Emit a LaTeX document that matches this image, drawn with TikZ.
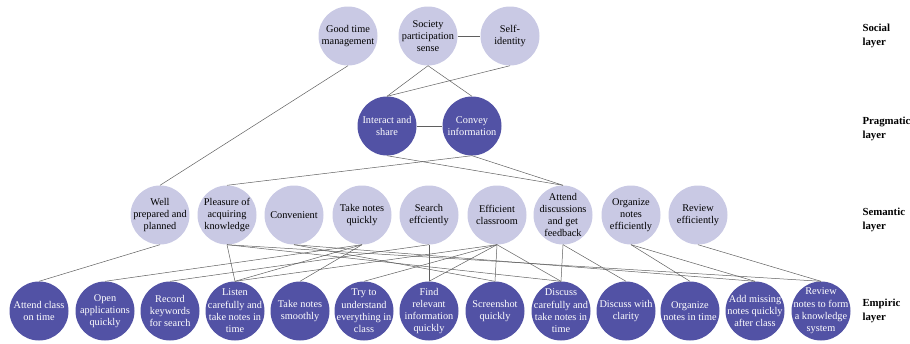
\documentclass[tikz,border=0pt]{standalone}
\usepackage{fontspec}
\setmainfont{Liberation Serif}
\definecolor{lightc}{RGB}{201,201,228}
\definecolor{darkc}{RGB}{82,82,165}
\definecolor{edgec}{RGB}{95,95,95}
\begin{document}
\begin{tikzpicture}[x=1pt,y=-1pt,
  light/.style={circle,fill=lightc,minimum size=59pt,inner sep=0pt,
    label={[txt,text=black]center:#1}},
  dark/.style={circle,fill=darkc,minimum size=59pt,inner sep=0pt,
    label={[txt,text=white]center:#1}},
  txt/.style={align=center,inner sep=0pt,font=\fontsize{10.3}{12.3}\selectfont},
  lay/.style={anchor=west,align=left,font=\fontsize{10.8}{14}\selectfont\bfseries},
  edge/.style={draw=edgec,line width=0.5pt}]
\useasboundingbox (0,0) rectangle (910,343);
% social
\node[light={Good time\\management}] (s1) at (348,36) {};
\node[light={Society\\participation\\sense}] (s2) at (428,36) {};
\node[light={Self-\\identity}] (s3) at (510,36) {};
% pragmatic
\node[dark={Interact and\\share}] (p1) at (387,126) {};
\node[dark={Convey\\information}] (p2) at (472,126) {};
% semantic
\node[light={Well\\prepared and\\planned}] (m1) at (160,215) {};
\node[light={Pleasure of\\acquiring\\knowledge}] (m2) at (227,215) {};
\node[light={Convenient}] (m3) at (294,215) {};
\node[light={Take notes\\quickly}] (m4) at (362,215) {};
\node[light={Search\\effciently}] (m5) at (429,215) {};
\node[light={Efficient\\classroom}] (m6) at (497,215) {};
\node[light={Attend\\discussions\\and get\\feedback}] (m7) at (563,215) {};
\node[light={Organize\\notes\\efficiently}] (m8) at (631,215) {};
\node[light={Review\\efficiently}] (m9) at (698,215) {};
% empiric
\node[dark={Attend class\\on time}] (e1) at (39,311) {};
\node[dark={Open\\applications\\quickly}] (e2) at (105,311) {};
\node[dark={Record\\keywords\\for search}] (e3) at (170,311) {};
\node[dark={Listen\\carefully and\\take notes in\\time}] (e4) at (235,311) {};
\node[dark={Take notes\\smoothly}] (e5) at (300,311) {};
\node[dark={Try to\\understand\\everything in\\class}] (e6) at (364,311) {};
\node[dark={Find\\relevant\\information\\quickly}] (e7) at (429,311) {};
\node[dark={Screenshot\\quickly}] (e8) at (495,311) {};
\node[dark={Discuss\\carefully and\\take notes in\\time}] (e9) at (561,311) {};
\node[dark={Discuss with\\clarity}] (e10) at (626,311) {};
\node[dark={Organize\\notes in time}] (e11) at (690,311) {};
\node[dark={Add missing\\notes quickly\\after class}] (e12) at (755,311) {};
\node[dark={Review\\notes to form\\a knowledge\\system}] (e13) at (821,311) {};
% layer labels
\node[lay] (l1) at (859,36) {Social\\layer};
\node[lay] (l2) at (859,129) {Pragmatic\\layer};
\node[lay] (l3) at (859,220) {Semantic\\layer};
\node[lay] (l4) at (859,311) {Empiric\\layer};
% edges
\path[edge] (s2.east) -- (s3.west);
\path[edge] (p1.east) -- (p2.west);
\path[edge] (s1.south) -- (m1.north);
\path[edge] (s2.south) -- (p1.north);
\path[edge] (s2.south) -- (p2.north);
\path[edge] (s3.south) -- (p1.north);
\path[edge] (p1.south) -- (m7.north);
\path[edge] (p2.south) -- (m2.north);
\path[edge] (p2.south) -- (m7.north);
\path[edge] (m1.south) -- (e1.north);
\path[edge] (m2.south) -- (e4.north);
\path[edge] (m2.south) -- (e9.north);
\path[edge] (m2.south) -- (e13.north);
\path[edge] (m3.south) -- (e8.north);
\path[edge] (m3.south) -- (e12.north);
\path[edge] (m4.south) -- (e2.north);
\path[edge] (m4.south) -- (e4.north);
\path[edge] (m4.south) -- (e5.north);
\path[edge] (m5.south) -- (e3.north);
\path[edge] (m5.south) -- (e7.north);
\path[edge] (m6.south) -- (e4.north);
\path[edge] (m6.south) -- (e6.north);
\path[edge] (m6.south) -- (e7.north);
\path[edge] (m6.south) -- (e8.north);
\path[edge] (m6.south) -- (e9.north);
\path[edge] (m7.south) -- (e9.north);
\path[edge] (m7.south) -- (e10.north);
\path[edge] (m8.south) -- (e11.north);
\path[edge] (m8.south) -- (e12.north);
\path[edge] (m9.south) -- (e13.north);
\end{tikzpicture}
\end{document}
